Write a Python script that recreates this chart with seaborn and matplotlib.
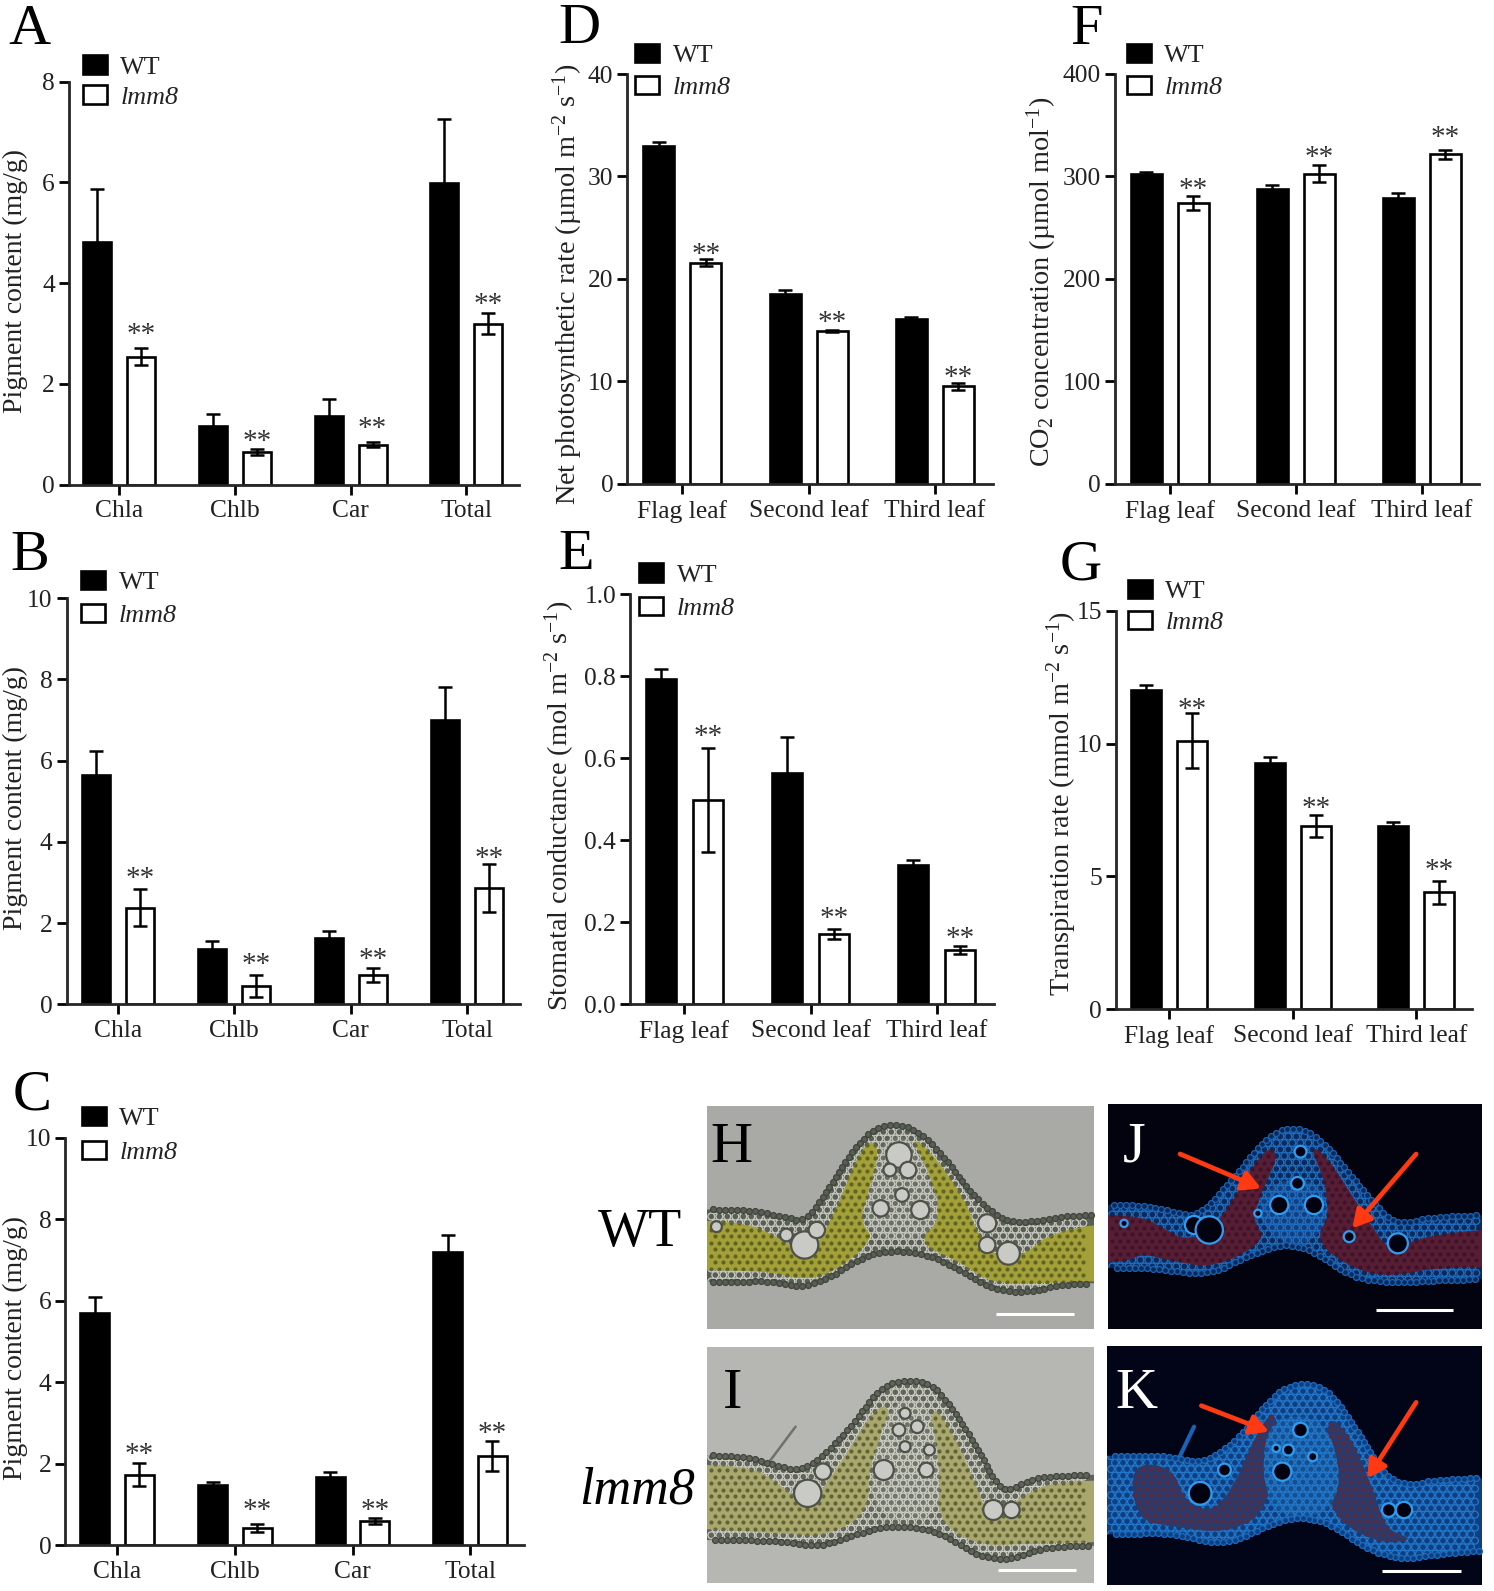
import numpy as np
import pandas as pd
import seaborn as sns
import matplotlib.pyplot as plt
from matplotlib.patches import Polygon, Rectangle, Circle

W, H = 1494, 1591

pigment_cats = ["Chla", "Chlb", "Car", "Total"]
leaf_cats = ["Flag leaf", "Second leaf", "Third leaf"]
groups = ["WT", "lmm8"]

# values
a_wt = [4.81, 1.16, 1.37, 5.99]
a_wt_err = [1.06, 0.24, 0.32, 1.27]
a_mut = [2.54, 0.64, 0.79, 3.19]
a_mut_err = [0.17, 0.06, 0.05, 0.21]
a_stars = [3.10, 0.98, 1.23, 3.71]

b_wt = [5.64, 1.37, 1.63, 7.00]
b_wt_err = [0.61, 0.18, 0.18, 0.82]
b_mut = [2.38, 0.45, 0.73, 2.87]
b_mut_err = [0.45, 0.28, 0.17, 0.59]
b_stars = [3.25, 1.13, 1.27, 3.74]

c_wt = [5.71, 1.47, 1.68, 7.19]
c_wt_err = [0.37, 0.08, 0.11, 0.43]
c_mut = [1.73, 0.43, 0.59, 2.19]
c_mut_err = [0.28, 0.10, 0.07, 0.36]
c_stars = [2.39, 1.02, 1.02, 2.91]

d_wt = [33.0, 18.5, 16.1]
d_wt_err = [0.35, 0.4, 0.15]
d_mut = [21.6, 14.9, 9.5]
d_mut_err = [0.3, 0.1, 0.3]
d_stars = [22.96, 16.4, 11.0]

e_wt = [0.793, 0.563, 0.340]
e_wt_err = [0.026, 0.088, 0.012]
e_mut = [0.498, 0.171, 0.133]
e_mut_err = [0.127, 0.012, 0.010]
e_stars = [0.668, 0.226, 0.177]

f_wt = [302, 288, 278.5]
f_wt_err = [2.5, 3, 5.5]
f_mut = [274, 302.6, 321.4]
f_mut_err = [6.7, 8, 4.4]
f_stars = [293, 324.8, 343.6]

g_wt = [12.02, 9.27, 6.91]
g_wt_err = [0.2, 0.24, 0.13]
g_mut = [10.11, 6.90, 4.40]
g_mut_err = [1.03, 0.41, 0.42]
g_stars = [11.51, 7.81, 5.48]

pigment_label = "Pigment content (mg/g)"
d_label = "Net photosynthetic rate (µmol m$^{-2}$ s$^{-1}$)"
e_label = "Stomatal conductance (mol m$^{-2}$ s$^{-1}$)"
f_label = "CO$_{2}$ concentration (µmol mol$^{-1}$)"
g_label = "Transpiration rate (mmol m$^{-2}$ s$^{-1}$)"

sns.set_theme(style="ticks")
plt.rcParams["font.family"] = ["Liberation Serif", "DejaVu Serif"]
plt.rcParams["mathtext.fontset"] = "custom"
plt.rcParams["mathtext.rm"] = "Liberation Serif"
plt.rcParams["mathtext.it"] = "Liberation Serif:italic"
plt.rcParams["mathtext.bf"] = "Liberation Serif:bold"

fig = plt.figure(figsize=(W / 100, H / 100), dpi=100, facecolor="white")

# whole figure axes in pixel coordinates, for letters and micrographs
page = fig.add_axes([0, 0, 1, 1])
page.set_xlim(0, W)
page.set_ylim(H, 0)
page.axis("off")


def bar_panel(cats, wt, wt_err, mut, mut_err, stars, yticks, ylabels, ylabel,
              box, tick0, tick_dx, bar_w, bar_gap, label_xy, legend_xy, legend_sp):
    left, right, bottom, top = box
    ax = fig.add_axes([left / W, 1 - bottom / H, (right - left) / W, (bottom - top) / H])
    ax.patch.set_alpha(0)
    df = pd.DataFrame({
        "cat": list(cats) * 2,
        "value": list(wt) + list(mut),
        "group": [groups[0]] * len(cats) + [groups[1]] * len(cats),
    })
    sns.barplot(data=df, x="cat", y="value", hue="group", hue_order=groups, order=cats,
                palette={"WT": "black", "lmm8": "white"}, edgecolor="black", linewidth=1.9,
                width=2 * (bar_w + bar_gap) / tick_dx, gap=bar_gap / (bar_w + bar_gap),
                errorbar=None, saturation=1, ax=ax)

    # error bars sit on the bars seaborn drew
    for cont, vals, errs in zip(ax.containers, [wt, mut], [wt_err, mut_err]):
        xs = [p.get_x() + p.get_width() / 2 for p in cont]
        ax.errorbar(xs, vals, yerr=errs, fmt="none", ecolor="black", elinewidth=1.8,
                    capsize=4.8, capthick=1.8, zorder=5)
    mut_x = [p.get_x() + p.get_width() / 2 for p in ax.containers[1]]
    for x, y in zip(mut_x, stars):
        ax.annotate("**", (x, y), xytext=(0, -10), textcoords="offset points",
                    ha="center", va="baseline", fontsize=21, color="#333333")

    ax.set_xlim((left - tick0) / tick_dx, (right - tick0) / tick_dx)
    ax.set_ylim(0, yticks[-1])
    ax.set_yticks(yticks)
    ax.set_yticklabels(ylabels)
    ax.set_xlabel("")
    ysize = 20 if cats is pigment_cats else 20.3
    ax.set_ylabel(ylabel, fontsize=ysize, color="#222222", va="center")
    ax.yaxis.set_label_coords(label_xy[0], label_xy[1], transform=page.transData)
    ax.tick_params(axis="both", length=7, width=2.0, color="black", labelsize=18.4,
                   labelcolor="#222222")
    ax.tick_params(axis="x", pad=4.5)
    ax.tick_params(axis="y", pad=3)
    sns.despine(ax=ax)
    ax.spines["left"].set_linewidth(2.0)
    ax.spines["bottom"].set_linewidth(2.0)

    handles, labels = ax.get_legend_handles_labels()
    px, py = page.transData.transform(legend_xy)
    leg = ax.legend(handles, labels, loc="upper left", bbox_to_anchor=(px / W, py / H),
                    bbox_transform=fig.transFigure, frameon=False, fontsize=18.8,
                    borderpad=0, borderaxespad=0, handlelength=0.92, handleheight=0.7,
                    handletextpad=0.52, labelspacing=legend_sp)
    for t in leg.get_texts():
        t.set_color("#222222")
    leg.get_texts()[1].set_fontstyle("italic")
    return ax


pig_8 = [0, 2, 4, 6, 8]
pig_10 = [0, 2, 4, 6, 8, 10]
bar_panel(pigment_cats, a_wt, a_wt_err, a_mut, a_mut_err, a_stars, pig_8, [str(v) for v in pig_8],
          pigment_label, (68.9, 519, 484.5, 81.6), 119.1, 115.7, 28, 16, (15.5, 280.6), (82.6, 55.5), 0.25)
bar_panel(pigment_cats, b_wt, b_wt_err, b_mut, b_mut_err, b_stars, pig_10, [str(v) for v in pig_10],
          pigment_label, (66.5, 520.3, 1004.3, 598.3), 117.8, 116.5, 28, 16, (15.5, 797.5), (81, 571), 0.37)
bar_panel(pigment_cats, c_wt, c_wt_err, c_mut, c_mut_err, c_stars, pig_10, [str(v) for v in pig_10],
          pigment_label, (65.4, 523.8, 1545.3, 1137.7), 117.1, 117.7, 29, 15.5, (15.5, 1348.5), (81.6, 1106.7), 0.42)
bar_panel(leaf_cats, d_wt, d_wt_err, d_mut, d_mut_err, d_stars, [0, 10, 20, 30, 40], ["0", "10", "20", "30", "40"],
          d_label, (627.3, 992.7, 483.8, 74), 682.3, 126.3, 31, 16, (568, 284), (635, 44), 0.33)
bar_panel(leaf_cats, e_wt, e_wt_err, e_mut, e_mut_err, e_stars, [0, 0.2, 0.4, 0.6, 0.8, 1.0],
          ["0.0", "0.2", "0.4", "0.6", "0.8", "1.0"],
          e_label, (630, 994.3, 1004.3, 594.3), 684.3, 126.3, 30, 17, (560, 805.8), (639, 563.5), 0.39)
bar_panel(leaf_cats, f_wt, f_wt_err, f_mut, f_mut_err, f_stars, [0, 100, 200, 300, 400], ["0", "100", "200", "300", "400"],
          f_label, (1114.7, 1479.3, 483.8, 73.7), 1169.7, 126, 31, 16, (1042, 281.5), (1126.7, 44), 0.33)
bar_panel(leaf_cats, g_wt, g_wt_err, g_mut, g_mut_err, g_stars, [0, 5, 10, 15], ["0", "5", "10", "15"],
          g_label, (1116, 1472, 1009.3, 610.7), 1169.3, 123.5, 30, 16, (1061.7, 803.5), (1127.7, 579.5), 0.3)


# micrograph sketches, outlines
def zx(x):
    return 540 + x / 1.6436


def zy(y):
    return 1080 + y / 3


def to_page(pts):
    return np.array([(zx(x), zy(y)) for x, y in pts])


def smooth(pts, rounds=3):
    # corner cutting so the traced outlines are not angular
    for _ in range(rounds):
        nxt = np.roll(pts, -1, axis=0)
        pts = np.column_stack([0.75 * pts + 0.25 * nxt, 0.25 * pts + 0.75 * nxt]).reshape(-1, 2)
    return pts


def edge_cells(pts, step):
    seg = np.hypot(*np.diff(np.vstack([pts, pts[:1]]), axis=0).T)
    pos = np.concatenate([[0], np.cumsum(seg)])
    t = np.arange(0, pos[-1], step)
    closed = np.vstack([pts, pts[:1]])
    return np.interp(t, pos, closed[:, 0]), np.interp(t, pos, closed[:, 1])


def micrograph(box, bg, tissue, cell, outline, meso_parts, meso_col, meso_cell, vein, vein_col,
               vessels, v_face, v_edge, rim):
    x0, x1, y0, y1 = box
    frame = Rectangle((x0, y0), x1 - x0, y1 - y0, facecolor=bg, edgecolor="none", zorder=2)
    page.add_patch(frame)
    pts = smooth(to_page(outline), 2)
    leaf = Polygon(pts, closed=True, facecolor=tissue, edgecolor="none", zorder=3)
    page.add_patch(leaf)
    leaf.set_clip_path(frame)
    # keep the cell grid a marker radius inside the frame
    gx, gy = np.meshgrid(np.arange(x0 + 4, x1 - 8, 8.0), np.arange(y0, y1, 6.5))
    gx[::2] += 4
    dots = page.scatter(gx.ravel(), gy.ravel(), s=24, facecolors="none", edgecolors=cell, linewidths=0.9, zorder=4)
    dots.set_clip_path(leaf)
    for part in meso_parts:
        m = Polygon(smooth(to_page(part), 2), closed=True, facecolor=meso_col, edgecolor="none", zorder=5)
        page.add_patch(m)
        m.set_clip_path(frame)
        md = page.scatter(gx.ravel(), gy.ravel(), s=9, color=meso_cell, linewidths=0, zorder=6)
        md.set_clip_path(m)
    v = Polygon(smooth(to_page(vein), 2), closed=True, facecolor=vein_col, edgecolor="none", zorder=6)
    page.add_patch(v)
    vd = page.scatter(gx.ravel(), gy.ravel(), s=22, facecolors="none", edgecolors=cell, linewidths=1.0, zorder=6)
    vd.set_clip_path(v)
    ex, ey = edge_cells(pts, 6.0)
    inside = (ex > x0 + 3) & (ex < x1 - 3)
    page.scatter(ex[inside], ey[inside], s=18, facecolors=tissue, edgecolors=rim, linewidths=0.9, zorder=6.5)
    for vx, vy, r in vessels:
        page.add_patch(Circle((zx(vx), zy(vy)), r / 2.2, facecolor=v_face, edgecolor=v_edge, lw=1.6, zorder=7))


h_box = (707.3, 1094.3, 1106, 1329.3)
i_box = (707.3, 1094.3, 1346.7, 1582.7)
j_box = (1108.3, 1481.9, 1104, 1328.7)
k_box = (1107, 1482, 1345.7, 1585)

h_outline = [(100, 395), (330, 385), (400, 410), (435, 425), (470, 340), (510, 220), (545, 150), (580, 130),
             (620, 150), (660, 220), (700, 320), (740, 395), (775, 430), (830, 420), (870, 405), (1100, 400),
             (1100, 600), (860, 610), (800, 640), (740, 625), (690, 570), (640, 525), (580, 510), (530, 530),
             (480, 590), (430, 625), (370, 600), (320, 610), (100, 590)]
h_meso = [[(100, 420), (330, 420), (400, 480), (440, 535), (480, 420), (530, 190), (560, 190), (540, 340),
           (525, 420), (550, 480), (480, 580), (430, 600), (370, 570), (100, 570)],
          [(610, 170), (640, 210), (700, 360), (720, 470), (770, 560), (860, 430), (1100, 430), (1100, 590),
           (830, 610), (740, 610), (690, 545), (620, 490), (660, 400), (640, 280)]]
h_vein = [(565, 170), (610, 170), (640, 300), (660, 420), (620, 480), (560, 480), (530, 420), (550, 280)]
h_vessels = [(590, 225, 28), (605, 270, 18), (560, 385, 18), (625, 390, 20), (595, 345, 15), (575, 270, 14),
             (435, 495, 30), (770, 520, 25), (735, 430, 20), (735, 495, 18), (290, 440, 12), (455, 450, 18),
             (405, 465, 14)]

i_outline = [(100, 1125), (330, 1125), (375, 1150), (430, 1175), (470, 1120), (520, 1020), (565, 905), (640, 900),
             (680, 990), (720, 1110), (760, 1245), (800, 1200), (850, 1185), (1100, 1180),
             (1100, 1400), (850, 1395), (800, 1420), (770, 1440), (720, 1430), (670, 1370), (620, 1340), (560, 1340),
             (510, 1370), (460, 1400), (400, 1385), (340, 1380), (100, 1380)]
i_meso = [[(100, 1160), (340, 1150), (400, 1220), (440, 1290), (490, 1160), (560, 960), (580, 1010), (540, 1150),
           (540, 1300), (470, 1370), (400, 1360), (100, 1330)],
          [(640, 960), (680, 1060), (720, 1230), (740, 1330), (790, 1250), (850, 1200), (1100, 1200), (1100, 1380),
           (800, 1390), (730, 1400), (660, 1340), (650, 1200)]]
i_vein = [(575, 960), (640, 960), (660, 1200), (650, 1320), (560, 1320), (540, 1200)]
i_vessels = [(565, 1170, 22), (635, 1170, 16), (590, 1050, 14), (620, 1040, 14), (440, 1240, 30),
             (465, 1175, 18), (745, 1290, 22), (775, 1290, 18), (600, 1000, 12), (600, 1100, 12), (640, 1110, 12)]

j_outline = [(750, 385), (975, 370), (1040, 395), (1085, 410), (1150, 270), (1200, 160), (1240, 140), (1280, 170),
             (1330, 280), (1380, 390), (1410, 435), (1480, 405), (1730, 405),
             (1730, 590), (1480, 600), (1400, 610), (1330, 590), (1270, 510), (1220, 490), (1160, 530),
             (1100, 585), (1030, 570), (970, 560), (750, 575)]
j_meso = [[(750, 410), (980, 400), (1030, 450), (1060, 480), (1110, 450), (1190, 200), (1215, 220), (1190, 320),
           (1170, 420), (1195, 480), (1110, 565), (1030, 540), (990, 520), (960, 550), (750, 550)],
          [(1265, 200), (1290, 220), (1350, 390), (1400, 530), (1450, 460), (1730, 430), (1730, 560),
           (1480, 560), (1400, 590), (1340, 570), (1275, 490), (1295, 400), (1290, 300)]]
j_vein = [(1205, 300), (1280, 300), (1300, 400), (1270, 490), (1215, 490), (1175, 400)]
j_vessels = [(1215, 375, 20), (1272, 375, 20), (1250, 215, 13), (1245, 310, 14), (1075, 435, 20),
             (1100, 450, 30), (1330, 470, 12), (1410, 490, 22), (960, 430, 8), (1180, 400, 8)]

k_outline = [(750, 1135), (980, 1125), (1040, 1130), (1090, 1150), (1140, 1090), (1190, 980), (1230, 910), (1290, 915),
             (1340, 1040), (1380, 1170), (1420, 1220), (1480, 1195), (1730, 1190),
             (1730, 1385), (1480, 1420), (1420, 1440), (1360, 1410), (1290, 1320), (1230, 1310), (1170, 1360),
             (1120, 1395), (1040, 1360), (980, 1360), (750, 1375)]
k_meso = [[(970, 1150), (1040, 1160), (1060, 1270), (1120, 1300), (1190, 1010), (1215, 1000), (1200, 1290),
           (1130, 1360), (1040, 1340), (980, 1320)],
          [(1290, 1000), (1330, 1060), (1370, 1230), (1390, 1350), (1440, 1380), (1370, 1390), (1290, 1290)]]
k_vein = [(1200, 1010), (1290, 1010), (1320, 1200), (1290, 1310), (1210, 1310), (1185, 1180)]
k_vessels = [(1220, 1175, 20), (1250, 1050, 16), (1270, 1130, 10), (1230, 1110, 12), (1085, 1240, 25),
             (1125, 1170, 14), (1420, 1290, 18), (1395, 1290, 15), (1210, 1105, 8)]

micrograph(h_box, "#a9a9a5", "#595e54", "#c9cbc2", h_outline, h_meso, "#a3a03a", "#5f6420", h_vein, "#6a6e64",
           h_vessels, "#c9c9c5", "#4e5248", "#3f443c")
micrograph(i_box, "#b6b6b2", "#60645a", "#cfd0c4", i_outline, i_meso, "#a9a76c", "#5f6438", i_vein, "#70746a",
           i_vessels, "#c9c9c5", "#4e5248", "#3f443c")
micrograph(j_box, "#03030f", "#0a2a5c", "#1f6fc4", j_outline, j_meso, "#571d35", "#3c1428", j_vein, "#123f80",
           j_vessels, "#020210", "#2f9cf0", "#1b63b4")
micrograph(k_box, "#020418", "#0e3f80", "#2378cc", k_outline, k_meso, "#2b3a6a", "#5a2a40", k_vein, "#14508f",
           k_vessels, "#020210", "#2f9cf0", "#1b6cc0")

# trichome on the lmm8 sections
page.plot([zx(420), zx(375)], [zy(1040), zy(1150)], color="#6e7368", lw=1.8, zorder=4)
page.plot([zx(1075), zx(1050)], [zy(1040), zy(1135)], color="#1a62b4", lw=3, zorder=4)

for xa, xb, yb in [(750, 877, 701), (1374, 1501, 691), (753, 881, 1471), (1384, 1514, 1473)]:
    page.plot([zx(xa), zx(xb)], [zy(yb), zy(yb)], color="white", lw=2.2, solid_capstyle="butt", zorder=8)

red_arrows = [((1052, 222), (1185, 325)), ((1440, 222), (1335, 445)),
              ((1087, 977), (1198, 1055)), ((1440, 967), (1360, 1195))]
for start, end in red_arrows:
    page.annotate("", xy=(zx(end[0]), zy(end[1])), xytext=(zx(start[0]), zy(start[1])), zorder=9,
                  arrowprops=dict(arrowstyle="-|>,head_width=0.5,head_length=0.9", color="#ff3a12", lw=3.4,
                                  shrinkA=0, shrinkB=0))

panel_letters = [("A", 8.6, 43.7, "black"), ("B", 10, 570, "black"), ("C", 13, 1110, "black"),
                 ("D", 558, 43, "black"), ("E", 558, 569, "black"), ("F", 1070.7, 43.7, "black"),
                 ("G", 1060, 579, "black"), ("H", 710, 1161.7, "black"), ("I", 722.5, 1408, "black"),
                 ("J", 1123, 1161, "white"), ("K", 1115, 1408, "white")]
for letter, x, y, col in panel_letters:
    page.text(x, y, letter, fontsize=42, color=col, ha="left", va="baseline", zorder=10)

page.text(598, 1245.7, "WT", fontsize=39, color="black", ha="left", va="baseline")
page.text(579.5, 1503, "lmm8", fontsize=37.5, fontstyle="italic", color="black", ha="left", va="baseline")

plt.savefig("out.png", dpi=100)
